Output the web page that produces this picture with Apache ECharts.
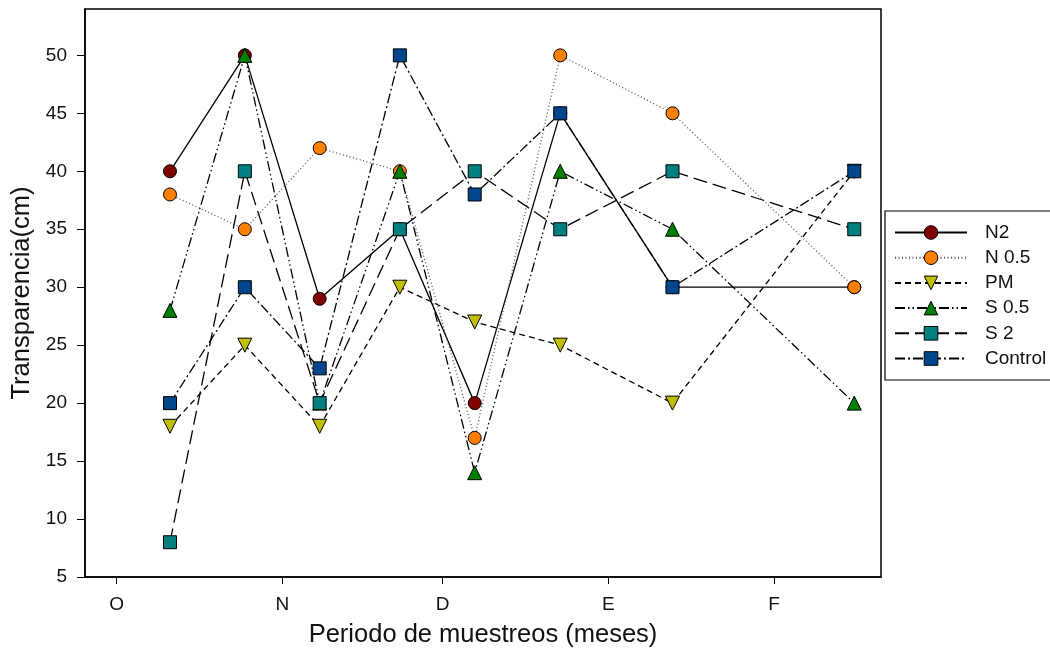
<!DOCTYPE html>
<html>
<head>
<meta charset="utf-8">
<script src="https://cdn.jsdelivr.net/npm/echarts@6/dist/echarts.min.js"></script>
<style>
html,body{margin:0;padding:0;background:#fff;}
#chart{width:1050px;height:653px;}
</style>
</head>
<body>
<div id="chart"></div>
<script>
// Month tick labels and their dates
const monthLabels = ['O', 'N', 'D', 'E', 'F'];
const monthStarts = ['2010-10-01', '2010-11-01', '2010-12-01', '2011-01-01', '2011-02-01'];
// Sampling dates
const sampleDates = ['2010-10-11', '2010-10-25', '2010-11-08', '2010-11-23', '2010-12-07', '2010-12-23', '2011-01-13', '2011-02-16'];
// Series values (Transparencia, cm)
const N2 = [40, 50, 29, 35, 20, 45, 30, 30];
const N05 = [38, 35, 42, 40, 17, 50, 45, 30];
const PM = [18, 25, 18, 30, 27, 25, 20, 40];
const S05 = [28, 50, 20, 40, 14, 40, 35, 20];
const S2 = [8, 40, 20, 35, 40, 35, 40, 35];
const Control = [20, 30, 23, 50, 38, 45, 30, 40];
const yTicks = [5, 10, 15, 20, 25, 30, 35, 40, 45, 50];

// days since the first month start (UTC, no DST issues)
function dayNum(s) {
  const p = s.split('-').map(Number);
  return Date.UTC(p[0], p[1] - 1, p[2]) / 86400000;
}
const origin = dayNum(monthStarts[0]);
const monthX = monthStarts.map(s => dayNum(s) - origin);
const sampleX = sampleDates.map(s => dayNum(s) - origin);
const xMin = -5.9;
const xMax = 143;

const FONT = '"Liberation Sans", Arial, sans-serif';

function mk(name, vals, fill, symbol, size, dash, lineColor, rotate) {
  return {
    name: name,
    type: 'line',
    data: vals.map((v, i) => [sampleX[i], v]),
    symbol: symbol,
    symbolSize: size,
    symbolRotate: rotate || 0,
    showAllSymbol: true,
    color: fill,
    lineStyle: { color: lineColor || '#000', width: 1.3, type: dash },
    itemStyle: { color: fill, borderColor: '#000', borderWidth: 1, opacity: 1 },
    emphasis: { disabled: true },
    animation: false
  };
}

const series = [
  mk('N2', N2, '#800000', 'circle', 13, 'solid'),
  mk('N 0.5', N05, '#ff8000', 'circle', 13, [1, 2.5], '#555'),
  mk('PM', PM, '#c0c000', 'triangle', 14, [6, 4], '#000', 180),
  mk('S 0.5', S05, '#008000', 'triangle', 14, [10, 3, 1.5, 3, 1.5, 3]),
  mk('S 2', S2, '#008080', 'rect', 13, [14, 6]),
  mk('Control', Control, '#00468c', 'rect', 13, [10, 3, 2, 3])
];

const chart = echarts.init(document.getElementById('chart'), null, { renderer: 'canvas' });
chart.setOption({
  animation: false,
  backgroundColor: '#fff',
  grid: {
    left: 85, right: 169, top: 9, bottom: 70,
    show: true, borderColor: '#000', borderWidth: 1.5, backgroundColor: 'transparent'
  },
  xAxis: {
    type: 'value',
    min: xMin,
    max: xMax,
    name: 'Periodo de muestreos (meses)',
    nameLocation: 'middle',
    nameGap: 45,
    nameTextStyle: { fontFamily: FONT, fontSize: 25.5, color: '#111' },
    axisLine: { show: true, onZero: false, lineStyle: { color: '#000', width: 1.5 } },
    axisTick: { show: true, length: 7, lineStyle: { color: '#000', width: 1 }, customValues: monthX },
    axisLabel: {
      show: true, margin: 18, fontFamily: FONT, fontSize: 19, color: '#111',
      customValues: monthX,
      formatter: function (v) {
        let best = 0, bd = Infinity;
        monthX.forEach((t, i) => { const d = Math.abs(t - v); if (d < bd) { bd = d; best = i; } });
        return monthLabels[best];
      }
    },
    splitLine: { show: false }
  },
  yAxis: {
    type: 'value',
    min: 5,
    max: 54,
    name: 'Transparencia(cm)',
    nameLocation: 'middle',
    nameGap: 48,
    nameTextStyle: { fontFamily: FONT, fontSize: 25.5, color: '#111' },
    axisLine: { show: true, onZero: false, lineStyle: { color: '#000', width: 1.5 } },
    axisTick: { show: true, length: 8, lineStyle: { color: '#000', width: 1 }, customValues: yTicks },
    axisLabel: { show: true, margin: 18, fontFamily: FONT, fontSize: 19, color: '#111', customValues: yTicks },
    splitLine: { show: false }
  },
  legend: {
    orient: 'vertical',
    left: 885,
    top: 211,
    padding: [12, 30, 12, 9],
    itemWidth: 72,
    itemHeight: 17,
    itemGap: 6.2,
    borderColor: '#000',
    borderWidth: 1.2,
    backgroundColor: '#fff',
    selectedMode: false,
    itemStyle: { borderColor: '#000', borderWidth: 1 },
    textStyle: { fontFamily: FONT, fontSize: 19, color: '#111', padding: [0, 0, 0, 13] },
    data: ['N2', 'N 0.5', 'PM', 'S 0.5', 'S 2', 'Control']
  },
  series: series
});
</script>
</body>
</html>
